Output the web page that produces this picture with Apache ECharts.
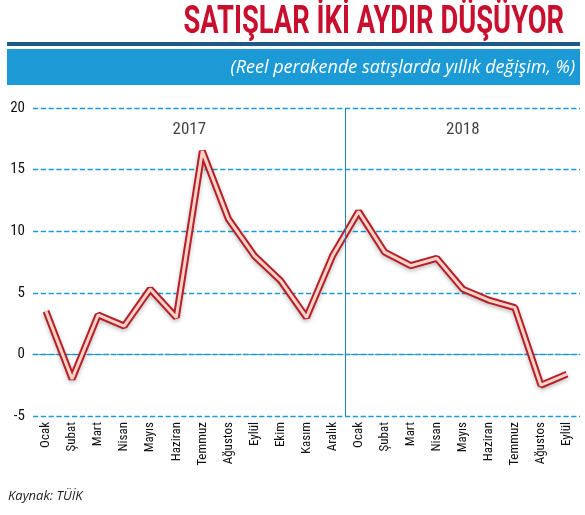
<!DOCTYPE html>
<html><head><meta charset="utf-8">
<script src="https://cdn.jsdelivr.net/npm/echarts@6/dist/echarts.min.js"></script>
<style>body{margin:0;background:#fff}#c{width:585px;height:515px}</style>
</head><body><div id="c"></div>
<script>
const categories=['Ocak','Şubat','Mart','Nisan','Mayıs','Haziran','Temmuz','Ağustos','Eylül','Ekim','Kasım','Aralık','Ocak','Şubat','Mart','Nisan','Mayıs','Haziran','Temmuz','Ağustos','Eylül'];
const values=[3.5,-2,3.2,2.3,5.3,3.0,16.5,11,8,6,3.0,8,11.6,8.3,7.2,7.8,5.3,4.4,3.8,-2.5,-1.6];
const yearLabels=[[5.5,18.2,'2017'],[16,18.2,'2018']];
const yTicks=[-5,0,5,10,15,20];
const chart=echarts.init(document.getElementById('c'));
const F='Roboto Condensed, Liberation Sans Narrow, DejaVu Sans Condensed, sans-serif';
chart.setOption({
 animation:false,
 graphic:[
  {type:'text',x:292,y:4,scaleX:0.72,originX:292,style:{text:'SATIŞLAR İKİ AYDIR DÜŞÜYOR',font:'bold 38px Roboto, sans-serif',fill:'#c8102e',textAlign:'center'}},
  {type:'rect',shape:{x:7,y:42,width:573,height:4},style:{fill:'#1d5a8a'}},
  {type:'rect',shape:{x:7,y:49,width:573,height:36},style:{fill:'#1b9ad6'}},
  {type:'text',right:10,top:59,style:{text:'(Reel perakende satışlarda yıllık değişim, %)',font:'italic 18px Open Sans, sans-serif',fill:'#fff'}},
  {type:'text',left:8,top:490,style:{text:'Kaynak: TÜİK',font:'italic 13px Open Sans, sans-serif',fill:'#222'}}
 ],
 grid:{left:33,right:5,top:108,bottom:99},
 xAxis:[{type:'category',data:categories,boundaryGap:true,axisTick:{show:false},
   axisLine:{lineStyle:{color:'#1b9ad6',type:'dashed'}},
   axisLabel:{rotate:90,interval:0,color:'#111',fontFamily:F,fontSize:13,margin:6}},
  {type:'value',min:-0.5,max:20.5,show:false}],
 yAxis:{type:'value',min:-5,max:20,interval:5,
   axisLine:{show:false},axisTick:{show:false},
   splitLine:{lineStyle:{color:'#1b9ad6',type:'dashed',width:1.3}},
   axisLabel:{color:'#111',fontFamily:F,fontSize:15,margin:8,formatter:v=>yTicks.includes(v)?String(v):''}},
 series:[
  {type:'line',data:values,symbol:'none',lineStyle:{color:'#b5202a',width:7,shadowColor:'rgba(0,0,0,0.25)',shadowBlur:4,shadowOffsetY:2},z:3},
  {type:'line',data:values,symbol:'none',lineStyle:{color:'#fbd3c6',width:3},z:4},
  {type:'scatter',xAxisIndex:1,data:yearLabels.map(d=>[d[0],d[1]]),symbolSize:0,
   label:{show:true,formatter:p=>yearLabels[p.dataIndex][2],color:'#111',fontFamily:F,fontSize:17},
   markLine:{symbol:'none',silent:true,label:{show:false},lineStyle:{color:'#1b7fc0',type:'solid',width:1},
     data:[[{coord:[11.5,20]},{coord:[11.5,-5]}]]}}
 ]
});
</script></body></html>
